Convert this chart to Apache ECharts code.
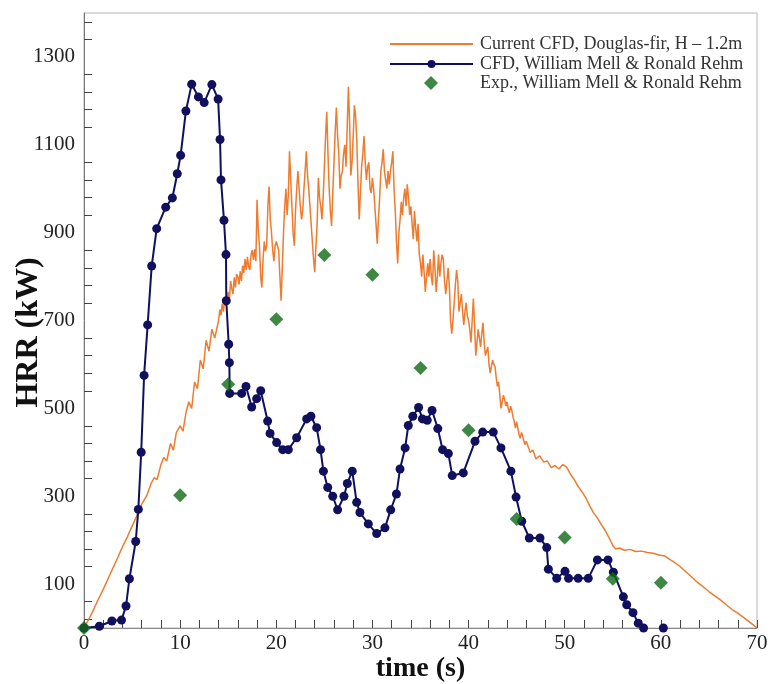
<!DOCTYPE html>
<html>
<head>
<meta charset="utf-8">
<title>HRR vs time</title>
<script src="https://cdn.jsdelivr.net/npm/echarts@6/dist/echarts.min.js"></script>
<style>
  html, body { margin: 0; padding: 0; background: #ffffff; }
  #chart { width: 772px; height: 684px; }
</style>
</head>
<body>
<div id="chart"></div>
<script>
// Current CFD run, Douglas-fir, H = 1.2 m
// growth phase (explicit sample times)
const currentEarlyTime = [
  0, 0.5, 1, 1.5, 2, 2.5, 3, 3.5, 4, 4.5, 5, 5.5, 6, 6.5, 7, 7.3, 7.6, 8, 8.3, 8.6,
  9, 9.3, 9.6, 10, 10.3, 10.6, 10.9, 11.2, 11.5, 11.8, 12.1, 12.4, 12.7, 13.0, 13.3, 13.6
];
const currentEarlyHRR = [
  0, 20, 42, 66, 88, 112, 136, 160, 185, 207, 232, 256, 282, 300, 330, 342, 338, 372, 388, 380,
  420, 405, 445, 460, 448, 490, 515, 500, 560, 545, 610, 590, 655, 630, 680, 660
];
// fully developed phase, output every 0.125 s from t = 14 s
const currentDenseStart = 14;
const currentDenseStep = 0.125;
const currentDenseHRR = [
  700, 725, 712, 738, 720, 745, 733, 752,
  765, 748, 790, 772, 760, 798, 775, 805,
  800, 782, 812, 790, 825, 808, 840, 815,
  845, 822, 815, 850, 860, 838, 862, 835,
  975, 905, 870, 800, 775, 840, 880, 858,
  870, 960, 1005, 930, 900, 860, 835, 870,
  880, 870, 860, 800, 745, 820, 900, 960,
  1000, 940, 985, 1085, 1020, 960, 900, 870,
  950, 1000, 1040, 1000, 960, 930, 950, 1000,
  1040, 1085, 1030, 1000, 960, 920, 880, 840,
  810, 870, 920, 1025, 980, 960, 930, 980,
  1050, 1120, 1175, 1080, 1000, 950, 915, 990,
  1060, 1130, 1185, 1120, 1080, 1000, 1030, 1040,
  1080, 1100, 1050, 1140, 1232, 1150, 1030, 1060,
  1120, 1190, 1165, 1110, 1010, 930, 990, 1050,
  1080, 1120, 1060, 1020, 1050, 1060, 1000, 990,
  1025, 1000, 960, 920, 875, 930, 980, 1040,
  1060, 1090, 1040, 1020, 1000, 1040, 1010, 1040,
  1060, 1085, 1000, 950, 880, 830, 900, 930,
  970, 940, 980, 1000, 960, 1010, 980, 940,
  960, 920, 885, 950, 910, 880, 920, 850,
  830, 800, 850, 810, 765, 800, 830, 800,
  840, 800, 780, 860, 820, 765, 800, 850,
  800, 830, 850, 840, 790, 760, 790, 820,
  780, 700, 670, 700, 740, 780, 815, 790,
  720, 740, 760, 720, 690, 720, 740, 710,
  700, 680, 650, 700, 750, 690, 620, 650,
  680, 660, 640, 670, 695, 650, 620, 630,
  640, 600, 580, 595, 610, 600, 595, 570,
  550, 560, 530, 500, 515, 530, 520, 505,
  515, 500, 490, 505, 495, 480, 470, 455,
  470, 455, 440, 432, 445, 438, 425, 418,
  425
];
// decay phase (explicit sample times)
const currentLateTime = [
  46.4, 46.7, 47.0, 47.4, 47.8, 48.2, 48.6, 49.0, 49.4, 49.8, 50.2, 50.6, 51.0, 51.4, 51.8,
  52.2, 52.6, 53.0, 53.4, 53.8, 54.2, 54.6, 55.0, 55.3, 55.7, 56.2, 56.8, 57.4, 58.0, 58.6,
  59.2, 59.8, 60.4, 61.0, 61.5, 62.0, 62.6, 63.2, 63.8, 64.4, 65.0, 65.6, 66.2, 66.8, 67.4,
  68.0, 68.6, 69.2, 69.6, 70.0
];
const currentLateHRR = [
  400, 405, 385, 392, 378, 380, 365, 370, 362, 372, 366, 350, 338, 322, 310,
  296, 278, 262, 250, 236, 222, 206, 188, 180, 182, 177, 179, 174, 175, 172,
  170, 166, 164, 155, 148, 140, 128, 116, 104, 94, 83, 73, 64, 53, 42,
  34, 24, 14, 7, 0
];

// CFD, William Mell & Ronald Rehm ('-' breaks the line)
const mellTime = [
  0, 1.6, 2.9, 3.9, 4.37, 4.72, 5.38, 5.65, 5.95, 6.25, 6.62, 7.04, 7.56, 8.5, 9.19, 9.7, 10.05,
  10.6, 11.2, 11.9, 12.5, 13.3, 13.95, 14.15, 14.25, 14.56, 14.77, 14.8, 15.05, 15.12, 15.15,
  16.4, 16.85, 17.44, 17.96, 18.38, 19.1, 19.35, 20.04, 20.67, 21.25, 22.12, 23.16, 23.6, 24.2,
  24.6, 24.9, 25.35, 25.87, 26.38, 27.04, 27.39, 27.9, 28.36, 28.7, 29.57, 30.44, 31.3, 31.9,
  32.5, 32.87, 33.4, 33.73, 34.2, 34.8, 35.2, 35.7, 36.2, 36.8, 37.3, 37.9, 38.3, 39.45, 40.67,
  41.47, 42.57, 43.37, 44.4, 44.94, 45.53, 46.32, 47.43, 48.13, 48.3, 49.17, 50.03, 50.4, 51.4,
  52.45, 53.4, 54.5, 55.06, 56.1, 56.45, 57.1, 57.65, 58.2, 59.2, 60.26
];
const mellHRR = [
  0, 4, 16, 18, 50, 112, 197, 270, 400, 575, 690, 824, 909, 958, 979, 1034, 1076,
  1177, 1238, 1209, 1196, 1237, 1204, 1112, 1020, 928, 850, 745, 646, 604, 534,
  534, 550, 503, 522, 540, 471, 443, 422, 406, 406, 433, 476, 482, 456,
  406, 357, 320, 300, 269, 300, 329, 357, 286, 263, 237, 215, 228, 269,
  305, 362, 410, 461, 482, 502, 476, 473, 495, 454, 406, 397, 347, 353, 425,
  446, 446, 410, 357, 298, 243, 205, 205, 183, 134, 113, 129, 113, 113,
  113, 155, 155, 127, 71, 53, 35, 11, 0, '-', 0
];

// Exp., William Mell & Ronald Rehm
const expTime = [0, 10, 15, 20, 25, 30, 35, 40, 45, 50, 55, 60];
const expHRR = [0, 302, 555, 703, 849, 804, 592, 450, 248, 206, 112, 103];

// Axis ticks and labels
const xTickValues = [];
for (let t = 0; t <= 70; t += 2) xTickValues.push(t);
const yLabelValues = [100, 300, 500, 700, 900, 1100, 1300];
const yTickValues = [];
for (let v = 20; v < 1400; v += 40) {
  if (yLabelValues.indexOf(v) < 0) yTickValues.push(v);
}

const seriesNames = [
  'Current CFD, Douglas-fir, H \u2013 1.2m',
  'CFD, William Mell & Ronald Rehm',
  'Exp., William Mell & Ronald Rehm'
];

const zip = (xs, ys) => xs.map((x, i) => [x, ys[i]]);

const currentData = zip(currentEarlyTime, currentEarlyHRR)
  .concat(currentDenseHRR.map((v, i) => [currentDenseStart + i * currentDenseStep, v]))
  .concat(zip(currentLateTime, currentLateHRR));

const serif = '"Liberation Serif", "Times New Roman", serif';
const orange = '#ee7b2e';
const navy = '#10105e';
const green = '#0f6a14';

const chart = echarts.init(document.getElementById('chart'), null, { renderer: 'canvas' });

chart.setOption({
  animation: false,
  backgroundColor: '#ffffff',
  grid: {
    left: 84, right: 15, top: 13, bottom: 56,
    containLabel: false,
    outerBoundsMode: 'none',
    show: true, borderColor: '#b4b4b4', borderWidth: 1
  },
  legend: [
    {
      orient: 'vertical',
      left: 384, top: 30,
      itemWidth: 83, itemHeight: 10, itemGap: 2,
      textStyle: { fontFamily: serif, fontSize: 18, color: '#333333', padding: [0, 0, 0, 2] },
      data: [
        { name: seriesNames[0], itemStyle: { opacity: 0 } },
        { name: seriesNames[1] }
      ]
    },
    {
      orient: 'vertical',
      left: 419, top: 69,
      itemWidth: 14, itemHeight: 14,
      textStyle: { fontFamily: serif, fontSize: 18, color: '#333333', padding: [0, 0, 0, 37] },
      data: [
        { name: seriesNames[2], icon: 'diamond' }
      ]
    }
  ],
  xAxis: {
    type: 'value',
    min: 0, max: 70, interval: 10,
    name: 'time (s)',
    nameLocation: 'middle',
    nameGap: 27,
    nameMoveOverlap: false,
    nameTextStyle: { fontFamily: serif, fontSize: 28, fontWeight: 'bold', color: '#111111' },
    axisLine: { show: true, lineStyle: { color: '#8a8a8a', width: 1 } },
    axisTick: { show: true, inside: true, length: 8, customValues: xTickValues, lineStyle: { color: '#444444' } },
    axisLabel: {
      fontFamily: serif, fontSize: 21, color: '#222222', margin: 5,
      showMinLabel: true, showMaxLabel: true,
      formatter: (v) => String(v)
    },
    splitLine: { show: false }
  },
  yAxis: {
    type: 'value',
    min: 0, max: 1400,
    name: 'HRR (kW)',
    nameLocation: 'middle',
    nameRotate: 90,
    nameGap: 39,
    nameMoveOverlap: false,
    nameTextStyle: {
      fontFamily: serif, fontSize: 32, fontWeight: 'bold', color: '#111111',
      padding: [0, 24, 0, 0]
    },
    axisLine: { show: true, lineStyle: { color: '#777777', width: 1 } },
    axisTick: { show: true, inside: true, length: 8, customValues: yTickValues, lineStyle: { color: '#444444' } },
    axisLabel: {
      fontFamily: serif, fontSize: 21, color: '#222222', margin: 9,
      customValues: yLabelValues,
      formatter: (v) => String(v)
    },
    splitLine: { show: false }
  },
  series: [
    {
      name: seriesNames[0],
      type: 'line',
      data: currentData,
      symbol: 'none',
      lineStyle: { color: orange, width: 1.5 },
      itemStyle: { color: orange },
      z: 2
    },
    {
      name: seriesNames[1],
      type: 'line',
      data: zip(mellTime, mellHRR),
      symbol: 'circle',
      symbolSize: 9,
      showAllSymbol: true,
      connectNulls: false,
      lineStyle: { color: navy, width: 2 },
      itemStyle: { color: navy },
      z: 3
    },
    {
      name: seriesNames[2],
      type: 'scatter',
      data: zip(expTime, expHRR),
      symbol: 'diamond',
      symbolSize: 14,
      itemStyle: { color: green },
      z: 4
    }
  ]
});
</script>
</body>
</html>
